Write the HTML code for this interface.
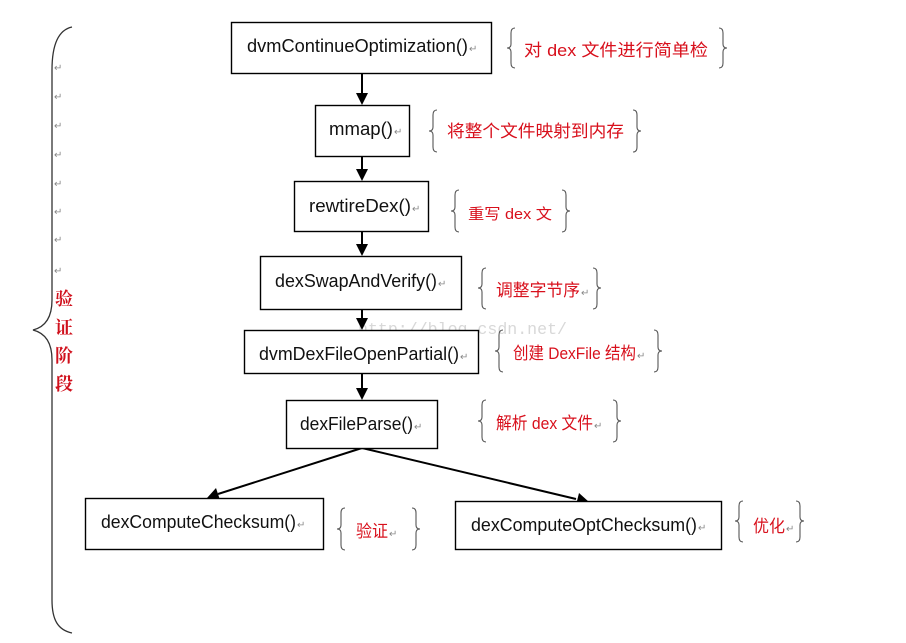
<!DOCTYPE html>
<html><head><meta charset="utf-8"><style>
html,body{margin:0;padding:0;background:#fff;}
svg{display:block;}
.lbl{font-family:"Liberation Sans",sans-serif;font-size:18px;fill:#111;}
.ann{font-family:"Liberation Sans","Noto Sans CJK SC",sans-serif;font-size:17px;fill:#d8101c;}
.ret{font-family:"DejaVu Sans",sans-serif;font-size:10px;fill:#888;}
.br{fill:none;stroke:#555;stroke-width:1.1;}
.box{fill:#fff;stroke:#000;stroke-width:1.4;}
</style></head><body>
<svg width="906" height="643" viewBox="0 0 906 643" xmlns="http://www.w3.org/2000/svg">
<rect width="906" height="643" fill="#fff"/>
<!-- big left brace -->
<path d="M72,27 C58,30 52,45 52,70 L52,300 C52,318 45,327 33,330 C45,333 52,342 52,360 L52,600 C52,620 58,630 72,633" fill="none" stroke="#333" stroke-width="1.3"/>
<g class="ret">
<text x="54" y="71">↵</text><text x="54" y="100">↵</text><text x="54" y="129">↵</text><text x="54" y="158">↵</text>
<text x="54" y="187">↵</text><text x="54" y="215">↵</text><text x="54" y="243">↵</text><text x="54" y="274">↵</text>
</g>
<g font-family="'Liberation Serif','Noto Serif CJK SC','Noto Sans CJK SC',serif" font-size="18" font-weight="bold" fill="#d0101c">
<text x="55" y="305">验</text><text x="55" y="334">证</text><text x="55" y="362">阶</text><text x="55" y="390">段</text>
</g>
<!-- watermark -->
<text x="358" y="334" font-family="'Liberation Mono',monospace" font-size="17" fill="#d8d8d8" textLength="209" lengthAdjust="spacingAndGlyphs">http://blog.csdn.net/</text>

<!-- arrows -->
<g stroke="#000" stroke-width="2">
<line x1="362" y1="73" x2="362" y2="95"/>
<line x1="362" y1="156" x2="362" y2="171"/>
<line x1="362" y1="231" x2="362" y2="246"/>
<line x1="362" y1="309" x2="362" y2="320"/>
<line x1="362" y1="373" x2="362" y2="390"/>
<line x1="362" y1="448" x2="218" y2="494"/>
<line x1="362" y1="448" x2="576" y2="499"/>
</g>
<g fill="#000">
<polygon points="356,93 368,93 362,105"/>
<polygon points="356,169 368,169 362,181"/>
<polygon points="356,244 368,244 362,256"/>
<polygon points="356,318 368,318 362,330"/>
<polygon points="356,388 368,388 362,400"/>
<polygon points="207,498 216,488 220,500"/>
<polygon points="589,502 576,505 579,493"/>
</g>

<!-- boxes -->
<rect class="box" x="231.5" y="22.5" width="260" height="51"/>
<rect class="box" x="315.5" y="105.5" width="94" height="51"/>
<rect class="box" x="294.5" y="181.5" width="134" height="50"/>
<rect class="box" x="260.5" y="256.5" width="201" height="53"/>
<rect class="box" x="244.5" y="330.5" width="234" height="43"/>
<rect class="box" x="286.5" y="400.5" width="151" height="48"/>
<rect class="box" x="85.5" y="498.5" width="238" height="51"/>
<rect class="box" x="455.5" y="501.5" width="266" height="48"/>

<g class="lbl">
<text x="247" y="52" textLength="221" lengthAdjust="spacingAndGlyphs">dvmContinueOptimization()</text>
<text x="329" y="135" textLength="64" lengthAdjust="spacingAndGlyphs">mmap()</text>
<text x="309" y="212" textLength="102" lengthAdjust="spacingAndGlyphs">rewtireDex()</text>
<text x="275" y="287" textLength="162" lengthAdjust="spacingAndGlyphs">dexSwapAndVerify()</text>
<text x="259" y="360" textLength="200" lengthAdjust="spacingAndGlyphs">dvmDexFileOpenPartial()</text>
<text x="300" y="430" textLength="113" lengthAdjust="spacingAndGlyphs">dexFileParse()</text>
<text x="101" y="528" textLength="195" lengthAdjust="spacingAndGlyphs">dexComputeChecksum()</text>
<text x="471" y="531" textLength="226" lengthAdjust="spacingAndGlyphs">dexComputeOptChecksum()</text>
</g>
<g class="ret">
<text x="469" y="52">↵</text><text x="394" y="135">↵</text><text x="412" y="212">↵</text><text x="438" y="287">↵</text>
<text x="460" y="360">↵</text><text x="414" y="430">↵</text><text x="297" y="528">↵</text><text x="698" y="531">↵</text>
<text x="581" y="296">↵</text><text x="637" y="359">↵</text><text x="594" y="429">↵</text><text x="389" y="537">↵</text><text x="786" y="532">↵</text>
</g>

<!-- annotations -->
<g class="ann">
<text x="524" y="56" textLength="184" lengthAdjust="spacingAndGlyphs">对  dex  文件进行简单检</text>
<text x="447" y="137" textLength="177" lengthAdjust="spacingAndGlyphs">将整个文件映射到内存</text>
<text x="468" y="219" font-size="15" textLength="84" lengthAdjust="spacingAndGlyphs">重写 dex 文</text>
<text x="496" y="296" textLength="84" lengthAdjust="spacingAndGlyphs">调整字节序</text>
<text x="513" y="359" textLength="123" lengthAdjust="spacingAndGlyphs">创建 DexFile 结构</text>
<text x="496" y="429" textLength="97" lengthAdjust="spacingAndGlyphs">解析 dex 文件</text>
<text x="356" y="537" textLength="32" lengthAdjust="spacingAndGlyphs">验证</text>
<text x="753" y="532" textLength="32" lengthAdjust="spacingAndGlyphs">优化</text>
</g>

<!-- small braces -->
<g class="br">
<path d="M515,28 Q511,28 511,33 L511,44 Q511,48 507,48 Q511,48 511,52 L511,63 Q511,68 515,68"/>
<path d="M719,28 Q723,28 723,33 L723,44 Q723,48 727,48 Q723,48 723,52 L723,63 Q723,68 719,68"/>
<path d="M437,110 Q433,110 433,115 L433,127 Q433,131 429,131 Q433,131 433,135 L433,147 Q433,152 437,152"/>
<path d="M633,110 Q637,110 637,115 L637,127 Q637,131 641,131 Q637,131 637,135 L637,147 Q637,152 633,152"/>
<path d="M459,190 Q455,190 455,195 L455,207 Q455,211 451,211 Q455,211 455,215 L455,227 Q455,232 459,232"/>
<path d="M562,190 Q566,190 566,195 L566,207 Q566,211 570,211 Q566,211 566,215 L566,227 Q566,232 562,232"/>
<path d="M486,268 Q482,268 482,273 L482,284 Q482,288 478,288 Q482,288 482,292 L482,304 Q482,309 486,309"/>
<path d="M593,268 Q597,268 597,273 L597,284 Q597,288 601,288 Q597,288 597,292 L597,304 Q597,309 593,309"/>
<path d="M503,330 Q499,330 499,335 L499,347 Q499,351 495,351 Q499,351 499,355 L499,367 Q499,372 503,372"/>
<path d="M654,330 Q658,330 658,335 L658,347 Q658,351 662,351 Q658,351 658,355 L658,367 Q658,372 654,372"/>
<path d="M486,400 Q482,400 482,405 L482,417 Q482,421 478,421 Q482,421 482,425 L482,437 Q482,442 486,442"/>
<path d="M613,400 Q617,400 617,405 L617,417 Q617,421 621,421 Q617,421 617,425 L617,437 Q617,442 613,442"/>
<path d="M345,508 Q341,508 341,513 L341,525 Q341,529 337,529 Q341,529 341,533 L341,545 Q341,550 345,550"/>
<path d="M412,508 Q416,508 416,513 L416,525 Q416,529 420,529 Q416,529 416,533 L416,545 Q416,550 412,550"/>
<path d="M743,501 Q739,501 739,506 L739,517 Q739,521 735,521 Q739,521 739,525 L739,537 Q739,542 743,542"/>
<path d="M796,501 Q800,501 800,506 L800,517 Q800,521 804,521 Q800,521 800,525 L800,537 Q800,542 796,542"/>
</g>
</svg>
</body></html>
